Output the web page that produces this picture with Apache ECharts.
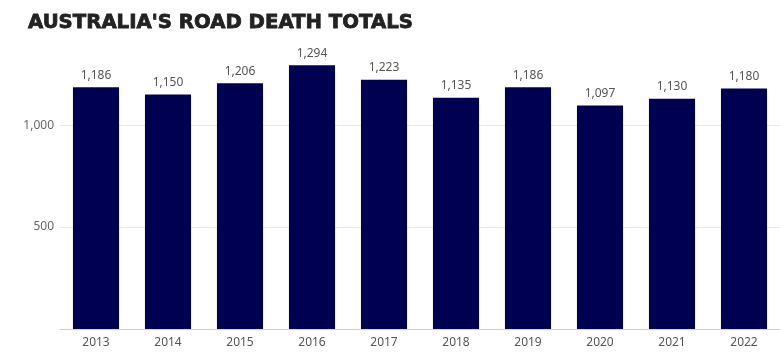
<!DOCTYPE html>
<html><head><meta charset="utf-8">
<script src="https://cdn.jsdelivr.net/npm/echarts@6/dist/echarts.min.js"></script>
<style>html,body{margin:0;padding:0;background:#fff}#c{width:780px;height:362px}</style>
</head><body><div id="c"></div>
<script>
const years = ['2013','2014','2015','2016','2017','2018','2019','2020','2021','2022'];
const deaths = [1186, 1150, 1206, 1294, 1223, 1135, 1186, 1097, 1130, 1180];
const yTicks = [0, 500, 1000];
const fmt = v => Number(v).toLocaleString('en-US');
const chart = echarts.init(document.getElementById('c'));
chart.setOption({
  animation: false,
  title: {
    text: "AUSTRALIA'S ROAD DEATH TOTALS",
    left: 23, top: 8,
    textStyle: { fontFamily: 'DejaVu Sans', fontWeight: 'bold', fontSize: 19.7, color: '#222',
      textBorderColor: '#222', textBorderWidth: 0.8 }
  },
  grid: { left: 60, right: 0, top: 64, bottom: 33 },
  xAxis: {
    type: 'category', data: years,
    axisLine: { lineStyle: { color: '#d0d0d0' } },
    axisTick: { show: false },
    axisLabel: { color: '#555', fontSize: 12, fontFamily: 'Noto Sans', margin: 8 }
  },
  yAxis: {
    type: 'value', min: 0, max: 1300, interval: 500,
    axisLine: { show: false }, axisTick: { show: false },
    axisLabel: {
      color: '#666', fontSize: 12, fontFamily: 'Noto Sans', margin: 6,
      showMaxLabel: false,
      formatter: v => (yTicks.indexOf(v) > 0 ? fmt(v) : '')
    },
    splitLine: { lineStyle: { color: ['rgba(0,0,0,0)', '#e6e6e6', '#e6e6e6', 'rgba(0,0,0,0)'] } }
  },
  series: [{
    type: 'bar', data: deaths, barWidth: '64%',
    itemStyle: { color: '#000050' },
    label: { show: true, position: 'top', distance: 6, color: '#555', fontSize: 12, fontFamily: 'Noto Sans', formatter: p => fmt(p.value) }
  }]
});
</script></body></html>
